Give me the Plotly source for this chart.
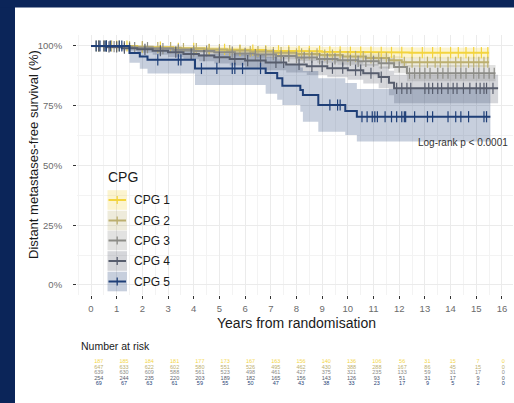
import numpy as np
import plotly.graph_objects as go

groups = ["CPG 1", "CPG 2", "CPG 3", "CPG 4", "CPG 5"]
colors = ["#F3D43E", "#BCAF6F", "#8C8C87", "#575D6D", "#1F3F77"]

# Kaplan-Meier steps: change times (years), survival (%), CI lower/upper (%)
t1 = [0, 1.8, 3.2, 4.5, 5.6, 6.8, 7.9, 9.0, 10.1, 11.2, 12.4]
s1 = [100, 99.5, 99.0, 98.6, 98.3, 98.0, 97.8, 97.6, 97.4, 97.3, 97.2]
lo1 = [100, 98.5, 97.6, 97.0, 96.5, 96.1, 95.8, 95.5, 95.2, 95.0, 94.8]
up1 = [100, 100, 100, 100, 99.9, 99.8, 99.7, 99.6, 99.5, 99.4, 99.3]

t2 = [0, 1.2, 2.4, 3.5, 4.4, 5.3, 6.2, 7.1, 8.0, 8.9, 9.8, 10.7, 11.6, 12.1]
s2 = [100, 99.7, 99.3, 98.9, 98.5, 98.1, 97.7, 97.2, 96.7, 96.2, 95.6, 95.0, 94.0, 93.2]
lo2 = [100, 99.3, 98.7, 98.2, 97.7, 97.2, 96.7, 96.1, 95.5, 94.9, 94.2, 93.5, 92.3, 91.2]
up2 = [100, 100, 99.8, 99.6, 99.3, 99.0, 98.7, 98.3, 97.9, 97.5, 97.0, 96.5, 95.7, 95.2]

t3 = [0, 0.8, 1.6, 2.4, 3.2, 4.0, 4.8, 5.6, 6.4, 7.2, 8.0, 8.8, 9.6, 10.4, 11.2, 11.8, 12.3]
s3 = [100, 99.7, 99.3, 98.9, 98.4, 97.9, 97.4, 96.9, 96.4, 95.8, 95.2, 94.6, 94.0, 93.6, 92.8, 91.2, 88.6]
lo3 = [100, 99.3, 98.8, 98.2, 97.6, 97.0, 96.3, 95.7, 95.1, 94.4, 93.7, 93.0, 92.2, 91.7, 90.6, 88.6, 85.2]
up3 = [100, 100, 99.8, 99.6, 99.2, 98.8, 98.4, 98.0, 97.6, 97.2, 96.7, 96.2, 95.8, 95.5, 95.0, 93.8, 92.0]

t4 = [0, 0.6, 1.2, 1.8, 2.4, 3.0, 3.6, 4.2, 4.8, 5.4, 6.0, 6.8, 7.6, 8.4, 9.2, 10.0, 10.6, 11.2, 11.6, 11.8]
s4 = [100, 99.6, 99.1, 98.6, 98.0, 97.4, 96.7, 96.0, 95.3, 94.6, 93.9, 93.1, 92.3, 91.5, 90.7, 89.9, 88.6, 87.0, 84.6, 82.3]
lo4 = [100, 98.8, 98.0, 97.2, 96.3, 95.4, 94.5, 93.6, 92.7, 91.8, 90.9, 89.9, 88.9, 87.9, 86.9, 85.9, 84.3, 82.3, 79.4, 76.0]
up4 = [100, 100, 100, 99.8, 99.5, 99.1, 98.6, 98.1, 97.6, 97.1, 96.6, 96.0, 95.4, 94.8, 94.2, 93.6, 92.6, 91.4, 89.6, 88.0]

t5 = [0, 1.5, 1.9, 2.2, 4.05, 6.8, 7.25, 7.45, 8.15, 8.25, 8.85, 9.9, 10.35]
s5 = [100, 97.1, 95.6, 94.2, 90.6, 88.7, 86.5, 83.4, 81.6, 79.5, 75.3, 72.8, 70.4]
lo5 = [100, 93.0, 90.5, 88.5, 83.7, 80.0, 77.5, 75.3, 72.5, 68.3, 64.1, 62.8, 60.0]
up5 = [100, 100, 99.5, 98.5, 96.5, 95.5, 94.5, 92.5, 91.0, 89.5, 86.5, 84.5, 82.0]

end_times = [15.5, 15.5, 15.75, 15.85, 15.55]

# censoring times (years)
c1 = [0.3, 0.6, 1.0, 1.4, 2.0, 2.7, 3.4, 4.0, 4.6, 5.2, 5.8, 6.3, 6.8, 7.3, 7.7, 8.1, 8.5, 8.9,
      9.3, 9.7, 10.1, 10.5, 10.9, 11.3, 11.7, 12.1, 12.5, 12.9, 13.3, 13.6, 14.0, 14.3, 14.6,
      14.9, 15.2, 15.45]
c2 = [0.2, 0.5, 0.8, 1.1, 1.5, 2.0, 2.6, 3.1, 3.6, 4.1, 4.6, 5.0, 5.4, 5.8, 6.2, 6.5, 6.8, 7.1,
      7.4, 7.7, 8.0, 8.2, 8.5, 8.8, 9.1, 9.4, 9.7, 10.0, 10.3, 10.6, 10.9, 11.2, 11.5, 11.8,
      12.2, 12.5, 12.8, 13.1, 13.4, 13.6, 13.9, 14.2, 14.4, 14.7, 14.9, 15.1, 15.3, 15.45]
c3 = [0.3, 0.6, 0.9, 1.3, 1.7, 2.2, 2.8, 3.4, 4.0, 4.5, 5.0, 5.5, 6.0, 6.4, 6.8, 7.1, 7.4, 7.7,
      8.0, 8.3, 8.6, 8.9, 9.2, 9.5, 9.8, 10.1, 10.4, 10.7, 11.0, 11.3, 11.6, 12.0, 12.4, 12.6,
      12.8, 13.0, 13.2, 13.5, 13.7, 13.9, 14.2, 14.4, 14.6, 14.9, 15.1, 15.3, 15.5, 15.7]
c4 = [0.3, 0.5, 0.7, 1.0, 1.3, 1.5, 2.1, 2.7, 3.3, 3.9, 4.4, 5.0, 5.6, 6.1, 6.6, 7.2, 7.5, 8.1,
      8.6, 9.0, 9.4, 9.8, 10.3, 10.5, 10.9, 11.3, 11.9, 12.1, 12.3, 12.45, 13.0, 13.15, 13.3,
      13.5, 13.65, 13.9, 14.1, 14.25, 14.5, 14.75, 15.0, 15.15, 15.3, 15.4, 15.65]
c5 = [0.2, 0.35, 0.55, 0.6, 0.75, 1.1, 1.2, 2.6, 3.4, 3.5, 4.3, 4.9, 5.5, 5.6, 5.9, 6.6, 9.3,
      9.6, 9.7, 10.55, 10.75, 10.95, 11.05, 11.15, 11.45, 11.7, 11.9, 12.1, 12.2, 12.25, 12.6,
      13.1, 13.3, 13.9, 14.2, 14.4, 14.7, 15.3, 15.4]

# number at risk table
risk_years = list(range(17))
risk1 = [187, 185, 184, 181, 177, 173, 167, 163, 156, 140, 136, 106, 56, 31, 15, 7, 0]
risk2 = [647, 633, 622, 602, 580, 551, 526, 495, 462, 430, 388, 288, 167, 86, 45, 15, 0]
risk3 = [639, 630, 609, 588, 561, 523, 498, 461, 427, 375, 321, 235, 133, 59, 31, 17, 0]
risk4 = [254, 244, 235, 220, 203, 189, 182, 165, 156, 143, 126, 93, 51, 31, 17, 9, 0]
risk5 = [69, 67, 63, 61, 59, 55, 50, 47, 43, 38, 33, 23, 17, 9, 5, 2, 0]

T = [t1, t2, t3, t4, t5]
S = [s1, s2, s3, s4, s5]
LO = [lo1, lo2, lo3, lo4, lo5]
UP = [up1, up2, up3, up4, up5]
C = [c1, c2, c3, c4, c5]
RISK = [risk1, risk2, risk3, risk4, risk5]

FONT = "Liberation Sans, Arial, sans-serif"


def steps(t, v, t_end):
    xs, ys = [], []
    for i in range(len(t)):
        if i > 0:
            xs.append(t[i])
            ys.append(v[i - 1])
        xs.append(t[i])
        ys.append(v[i])
    xs.append(t_end)
    ys.append(v[-1])
    return xs, ys


def rgba(hex_col, a):
    h = hex_col.lstrip("#")
    r, g, b = int(h[0:2], 16), int(h[2:4], 16), int(h[4:6], 16)
    return f"rgba({r},{g},{b},{a})"


fig = go.Figure()

# confidence bands
for k in range(5):
    ux, uy = steps(T[k], UP[k], end_times[k])
    lx, ly = steps(T[k], LO[k], end_times[k])
    fig.add_trace(go.Scatter(x=ux + lx[::-1], y=uy + ly[::-1], fill="toself",
                             fillcolor=rgba(colors[k], 0.25), line=dict(width=0),
                             mode="lines", hoverinfo="skip", showlegend=False))

# survival curves + censor marks
for k in range(5):
    sx, sy = steps(T[k], S[k], end_times[k])
    fig.add_trace(go.Scatter(x=sx, y=sy, mode="lines", line=dict(color=colors[k], width=2),
                             showlegend=False, name=groups[k]))
    idx = np.searchsorted(T[k], C[k], side="right") - 1
    cy = np.array(S[k])[idx]
    fig.add_trace(go.Scatter(x=C[k], y=cy, mode="markers", showlegend=False,
                             marker=dict(symbol="line-ns", size=8,
                                         line=dict(width=1.2, color=colors[k]))))

# risk table
for k in range(5):
    fig.add_trace(go.Scatter(x=risk_years, y=[k + 1] * len(risk_years), mode="text",
                             text=[str(n) for n in RISK[k]],
                             textfont=dict(size=5.5, color=colors[k], family=FONT),
                             xaxis="x2", yaxis="y2", showlegend=False, hoverinfo="skip"))

L, R, TOP, B = 77, 1, 35, 15
W, H = 514, 403
pw, ph = W - L - R, H - TOP - B


def px_x(p):
    return (p - L) / pw


def px_y(p):
    return (H - B - p) / ph


def label(text, x, y, size, xanchor="center", **kw):
    return dict(text=text, x=px_x(x), y=px_y(y), xref="paper", yref="paper",
                xanchor=xanchor, yanchor="middle", showarrow=False,
                font=dict(size=size, color="#1a1a1a"), **kw)


shapes = [
    dict(type="rect", xref="paper", yref="paper", x0=px_x(0), x1=px_x(15), y0=px_y(403), y1=px_y(0),
         fillcolor="#0B2559", line=dict(width=0)),
    dict(type="rect", xref="paper", yref="paper", x0=px_x(0), x1=px_x(514), y0=px_y(7.5), y1=px_y(0),
         fillcolor="#0B2559", line=dict(width=0)),
]
annotations = [
    label("Distant metastases-free survival (%)", 33, 155, 13, textangle=-90),
    label("Years from randomisation", 296, 323, 14),
    label("Number at risk", 79, 346, 10.5, xanchor="left"),
    label("CPG", 106, 177, 14, xanchor="left"),
    dict(text="Log-rank p < 0.0001", x=12.66, y=59.7, xref="x", yref="y", xanchor="left",
         yanchor="middle", showarrow=False, font=dict(size=10, color="#333333")),
]

# legend keys
key_y = [200, 220.5, 240.5, 261, 281.5]
for k in range(5):
    cy = key_y[k]
    shapes.append(dict(type="rect", xref="paper", yref="paper", x0=px_x(107.5), x1=px_x(127),
                       y0=px_y(cy + 9.8), y1=px_y(cy - 9.8), fillcolor=rgba(colors[k], 0.25),
                       line=dict(width=0)))
    shapes.append(dict(type="line", xref="paper", yref="paper", x0=px_x(108.5), x1=px_x(126),
                       y0=px_y(cy), y1=px_y(cy), line=dict(color=colors[k], width=2)))
    shapes.append(dict(type="line", xref="paper", yref="paper", x0=px_x(117.2), x1=px_x(117.2),
                       y0=px_y(cy + 4), y1=px_y(cy - 4), line=dict(color=colors[k], width=1.3)))
    annotations.append(label(groups[k], 132, cy, 12, xanchor="left"))

fig.update_layout(
    width=W, height=H,
    margin=dict(l=L, r=R, t=TOP, b=B),
    paper_bgcolor="white", plot_bgcolor="white",
    font=dict(family=FONT),
    showlegend=False,
    shapes=shapes,
    annotations=annotations,
    xaxis=dict(domain=[0, 1], range=[-0.545, 16.43], tickvals=list(range(17)),
               showgrid=True, gridcolor="#EBEBEB", gridwidth=1, zeroline=False, showline=False,
               ticks="outside", ticklen=3, tickwidth=1, tickcolor="#333333",
               tickfont=dict(size=9.5, color="#6b6b6b"), ticklabelstandoff=2,
               minor=dict(dtick=0.5, showgrid=True, gridcolor="#F3F3F3", gridwidth=0.7)),
    yaxis=dict(domain=[px_y(295), 1], range=[-4.2, 104.6], tickvals=[0, 25, 50, 75, 100],
               ticktext=["0%", "25%", "50%", "75%", "100%"],
               showgrid=True, gridcolor="#EBEBEB", gridwidth=1, zeroline=False, showline=False,
               ticks="outside", ticklen=3, tickwidth=1, tickcolor="#333333",
               tickfont=dict(size=9.5, color="#6b6b6b"), ticklabelstandoff=9,
               minor=dict(dtick=12.5, showgrid=True, gridcolor="#F3F3F3", gridwidth=0.7)),
    xaxis2=dict(domain=[0, 1], anchor="y2", range=[-0.862, 16.385], visible=False),
    yaxis2=dict(domain=[px_y(386.8), px_y(359.2)], anchor="x2", range=[5.5, 0.5],
                visible=False),
)

# drop the browser's default 8px body margin so the figure sits at the page corner
fig.write_html("out.html", config={"displayModeBar": False},
               post_script="document.body.style.margin='0';")
